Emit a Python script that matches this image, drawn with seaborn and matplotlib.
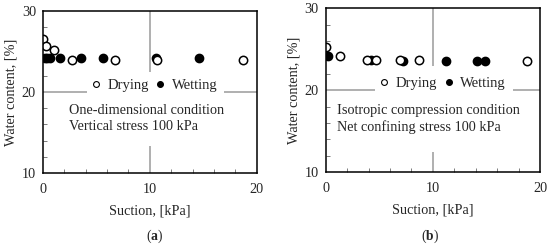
import numpy as np
import pandas as pd
import matplotlib
matplotlib.use("Agg")
import matplotlib.pyplot as plt
import seaborn as sns
from matplotlib.lines import Line2D
from matplotlib.patches import Rectangle
from matplotlib.ticker import MultipleLocator

# Panel (a): one-dimensional condition
a_dry_x = [0.0, 0.25, 1.06, 2.7, 6.7, 10.7, 18.75]
a_dry_y = [26.5, 25.7, 25.2, 24.0, 24.0, 23.9, 24.0]
a_wet_x = [0.15, 0.4, 0.7, 1.6, 3.55, 5.6, 10.55, 14.6]
a_wet_y = [24.2, 24.2, 24.2, 24.2, 24.2, 24.2, 24.2, 24.2]

# Panel (b): isotropic compression condition
b_dry_x = [0.0, 1.37, 3.9, 4.7, 6.9, 8.75, 18.75]
b_dry_y = [25.3, 24.2, 23.7, 23.7, 23.7, 23.7, 23.6]
b_wet_x = [0.25, 4.2, 7.2, 11.2, 14.15, 14.9]
b_wet_y = [24.2, 23.7, 23.6, 23.6, 23.6, 23.6]

labels = ["Drying", "Wetting"]
notes = ["One-dimensional condition\nVertical stress 100 kPa",
         "Isotropic compression condition\nNet confining stress 100 kPa"]
panel_tags = ["a", "b"]

sns.set_theme(style="white")
plt.rcParams['font.family'] = ['Liberation Serif', 'DejaVu Serif']
plt.rcParams['mathtext.fontset'] = 'custom'
plt.rcParams['mathtext.rm'] = 'Liberation Serif'
plt.rcParams['mathtext.bf'] = 'Liberation Serif:bold'
FS = 10.3

fig = plt.figure(figsize=(5.5, 2.45), dpi=100)
ax_a = fig.add_axes([0.078, 0.294, 0.389, 0.661])
ax_b = fig.add_axes([0.592, 0.298, 0.390, 0.668])

panels = [
    (ax_a, a_dry_x, a_dry_y, a_wet_x, a_wet_y, (2.4, 16.7), (10.3, 20.8),
     (0.205, 0.165, 0.64, 0.46)),
    (ax_b, b_dry_x, b_dry_y, b_wet_x, b_wet_y, (1.1, 16.5), (10.8, 20.8),
     (0.23, 0.12, 0.645, 0.525)),
]

for i, (ax, dx, dy, wx, wy, note_pos, leg_pos, rect) in enumerate(panels):
    ax.set_xlim(0, 20)
    ax.set_ylim(10, 30)
    ax.axvline(10, color="#9a9a9a", lw=1.1, zorder=0.5)
    ax.axhline(20, color="#9a9a9a", lw=1.1, zorder=0.5)
    ax.add_patch(Rectangle((rect[0], rect[1]), rect[2], rect[3],
                           transform=ax.transAxes, facecolor="white",
                           edgecolor="none", zorder=0.8))
    df_d = pd.DataFrame({"x": dx, "y": dy})
    df_w = pd.DataFrame({"x": wx, "y": wy})
    sns.scatterplot(data=df_w, x="x", y="y", ax=ax, s=36, color="black",
                    edgecolor="black", linewidth=1.0, zorder=3)
    sns.scatterplot(data=df_d, x="x", y="y", ax=ax, s=36, color="white",
                    edgecolor="black", linewidth=1.1, zorder=4)
    ax.set_xticks([0, 10, 20])
    ax.set_yticks([10, 20, 30])
    ax.xaxis.set_minor_locator(MultipleLocator(2))
    ax.yaxis.set_minor_locator(MultipleLocator(2))
    ax.tick_params(axis="both", which="both", direction="in",
                   bottom=True, left=True, labelsize=FS)
    ax.tick_params(axis="x", which="major", pad=7)
    ax.tick_params(axis="y", which="major", pad=5)
    ax.tick_params(which="major", length=0)
    ax.tick_params(which="minor", length=3, width=0.6, color="#666666")
    for sp in ax.spines.values():
        sp.set_color("black")
        sp.set_linewidth(1.1)
        sp.set_zorder(5)
    ax.set_xlabel("Suction, [kPa]", fontsize=FS, labelpad=6)
    ax.set_ylabel("Water content, [%]", fontsize=FS, labelpad=3)
    ax.text(note_pos[0], note_pos[1], notes[i], fontsize=FS,
            ha="left", va="center", linespacing=1.25, zorder=6)
    handles = [
        Line2D([], [], marker="o", ls="none", mfc="white", mec="black",
               ms=4.2, mew=0.8),
        Line2D([], [], marker="o", ls="none", mfc="black", mec="black",
               ms=4.2, mew=0.8),
    ]
    leg = ax.legend(handles, labels, loc="center", ncol=2, fontsize=FS + 0.2,
                    frameon=False, handletextpad=0.3, columnspacing=0.3,
                    handlelength=1.0, borderpad=0.1,
                    bbox_to_anchor=leg_pos, bbox_transform=ax.transData)
    leg.set_zorder(6)

fig.text(0.282, 0.0, r"($\mathbf{a}$)", fontsize=FS - 0.5, ha="center", va="bottom")
fig.text(0.782, 0.0, r"($\mathbf{b}$)", fontsize=FS - 0.5, ha="center", va="bottom")

fig.savefig("out.png", dpi=100)
